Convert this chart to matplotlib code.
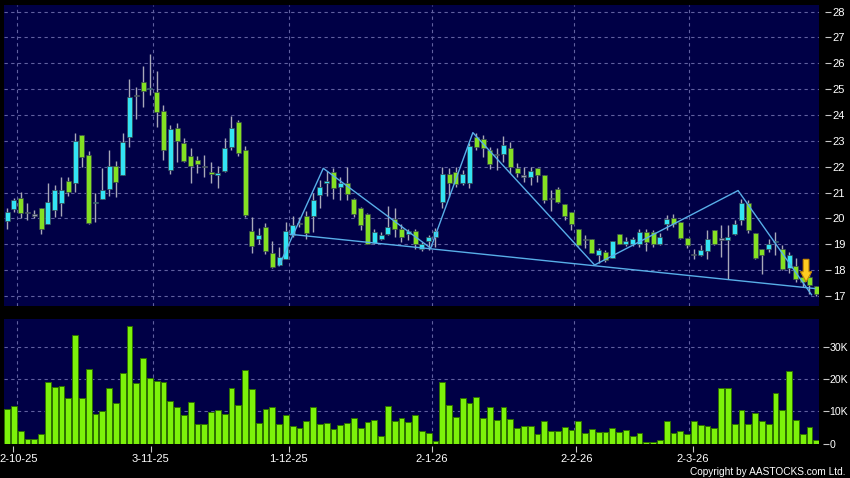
import matplotlib
matplotlib.use("Agg")
import matplotlib.pyplot as plt
from matplotlib.patches import Polygon
from matplotlib.transforms import ScaledTranslation
import numpy as np

plt.rcParams['font.family'] = ['Liberation Sans', 'DejaVu Sans']

# ---------------- data (daily bars, 30-9-25 .. 26-3-26) ----------------
opens = [19.92, 20.36, 20.78, 20.23, 20.14, 20.39, 19.78, 20.32, 20.59, 21.44,
         21.36, 23.22, 22.44, 20.59, 20.77, 21.13, 22.04, 21.67, 23.14, 24.76,
         25.27, 25.00, 24.90, 24.14, 21.88, 23.51, 22.91, 22.40, 22.26, 22.01,
         21.79, 21.67, 21.83, 22.75, 23.73, 22.66, 19.53, 19.21, 19.68, 18.68,
         18.20, 18.43, 19.37, 19.81, 20.10, 20.10, 20.91, 21.36, 21.78, 21.23,
         21.39, 20.77, 20.42, 20.18, 19.05, 19.22, 19.41, 19.97, 19.61, 19.38,
         19.52, 18.82, 19.12, 19.28, 20.64, 21.71, 21.78, 21.38, 21.39, 23.16,
         23.09, 22.66, 22.48, 22.48, 22.72, 21.97, 21.64, 21.59, 21.97, 21.68,
         20.78, 21.13, 20.55, 20.24, 19.61, 19.19, 19.19, 18.58, 18.71, 18.49,
         19.38, 19.01, 19.01, 19.01, 19.49, 19.46, 19.01, 19.77, 20.02, 19.87,
         19.25, 18.61, 18.57, 18.75, 19.57, 19.20, 19.17, 19.38, 19.93, 20.61,
         19.44, 18.80, 18.80, 19.08, 18.83, 18.07, 18.17, 17.72, 17.75, 17.40]
highs = [20.42, 20.80, 21.01, 20.59, 20.33, 20.40, 21.36, 21.30, 21.62, 21.62,
         23.29, 23.22, 22.59, 20.97, 21.97, 22.65, 22.24, 23.29, 25.38, 25.07,
         25.90, 26.36, 25.70, 24.39, 23.63, 23.69, 23.11, 22.72, 22.40, 22.46,
         22.20, 22.01, 23.11, 23.97, 23.82, 22.81, 20.05, 19.62, 19.84, 19.12,
         18.88, 19.88, 20.10, 20.07, 20.27, 21.00, 21.49, 21.82, 21.94, 21.59,
         21.98, 20.80, 20.45, 20.20, 19.61, 19.48, 20.48, 20.42, 19.80, 19.61,
         19.61, 19.09, 19.35, 19.65, 22.00, 21.94, 22.00, 21.87, 22.91, 23.30,
         23.23, 22.78, 22.72, 23.19, 22.97, 22.13, 22.00, 22.00, 21.97, 21.68,
         21.10, 21.23, 20.55, 20.24, 19.61, 19.36, 19.19, 18.84, 18.78, 19.14,
         19.38, 19.29, 19.29, 19.61, 19.61, 19.55, 19.42, 20.13, 20.19, 19.87,
         19.25, 18.81, 18.97, 19.55, 19.57, 19.75, 19.75, 19.93, 20.77, 20.70,
         19.44, 18.80, 19.22, 19.49, 18.97, 18.72, 18.49, 18.00, 17.87, 17.40]
lows = [19.60, 20.25, 20.00, 19.94, 20.00, 19.39, 19.78, 20.07, 20.10, 20.85,
        21.04, 22.00, 19.80, 19.88, 20.74, 20.85, 20.82, 21.67, 22.78, 23.86,
        24.32, 24.78, 23.55, 22.26, 21.73, 22.20, 22.17, 21.36, 21.75, 21.62,
        21.39, 21.17, 21.80, 22.66, 22.40, 20.07, 18.68, 19.01, 18.63, 18.10,
        18.20, 18.43, 19.30, 19.68, 19.19, 19.49, 20.40, 20.85, 20.77, 20.71,
        20.73, 20.06, 19.54, 19.00, 19.00, 19.16, 19.35, 19.28, 19.09, 19.18,
        18.83, 18.73, 18.77, 18.90, 20.42, 20.84, 21.23, 21.29, 21.16, 22.65,
        22.39, 21.90, 21.88, 22.20, 21.75, 21.59, 21.42, 21.29, 21.42, 20.58,
        20.30, 20.58, 19.94, 19.55, 18.93, 18.84, 18.65, 18.26, 18.32, 18.49,
        19.00, 18.93, 18.93, 18.88, 18.75, 18.90, 18.97, 19.55, 19.68, 19.22,
        18.84, 18.45, 18.54, 18.45, 18.97, 18.52, 17.65, 19.35, 19.74, 19.42,
        18.45, 17.87, 18.71, 18.59, 18.00, 17.88, 17.55, 17.35, 17.07, 17.00]
closes = [20.24, 20.70, 20.20, 20.23, 20.14, 19.58, 20.63, 21.09, 21.09, 21.04,
          23.00, 22.37, 19.84, 20.65, 21.09, 22.04, 21.40, 22.95, 24.69, 24.76,
          24.94, 25.06, 24.10, 22.65, 23.46, 22.99, 22.24, 22.04, 22.10, 22.01,
          21.74, 21.75, 22.71, 23.50, 22.55, 20.14, 18.94, 19.36, 18.74, 18.11,
          18.50, 19.50, 19.76, 19.81, 19.43, 20.72, 21.21, 21.45, 21.16, 21.39,
          20.94, 20.17, 19.74, 19.02, 19.48, 19.36, 19.67, 19.61, 19.28, 19.52,
          19.00, 19.02, 19.28, 19.52, 21.71, 21.36, 21.34, 21.73, 22.82, 22.78,
          22.72, 22.10, 22.48, 22.84, 22.00, 21.77, 21.64, 21.84, 21.68, 20.71,
          20.78, 20.62, 20.11, 19.77, 18.97, 19.19, 18.67, 18.78, 18.41, 19.14,
          19.01, 19.14, 19.19, 19.49, 19.10, 19.01, 19.29, 19.97, 19.77, 19.25,
          18.99, 18.61, 18.77, 19.19, 19.01, 19.20, 19.28, 19.77, 20.61, 19.57,
          18.49, 18.58, 19.03, 19.13, 18.03, 18.60, 17.64, 17.55, 17.42, 17.08]
volumes = [10650, 11700, 3900, 1450, 1350, 3100, 19100, 17600, 17800, 14100,
           33600, 14000, 23200, 9300, 10000, 17100, 12600, 21900, 36600, 18800,
           26400, 20200, 19400, 19200, 13100, 11400, 8900, 12800, 6100, 6200,
           9900, 10300, 9300, 17200, 11900, 22800, 16800, 6500, 10700, 11200,
           5900, 8800, 5400, 4900, 6900, 11300, 6200, 6500, 4550, 5700,
           6500, 7800, 4800, 6700, 7200, 2300, 11700, 7000, 8000, 6600,
           9000, 3900, 3200, 700, 19100, 11800, 8300, 14200, 12500, 14500,
           8000, 11300, 7200, 11300, 7700, 4700, 5400, 5400, 3000, 6900,
           3900, 3900, 5200, 4200, 7000, 3300, 4400, 3700, 3700, 4800,
           3500, 4200, 2300, 3400, 600, 600, 1100, 6900, 3400, 3800,
           3100, 6900, 5600, 5500, 4900, 17200, 17200, 6000, 10300, 6000,
           9600, 6900, 6000, 15600, 10500, 22400, 7300, 3100, 5000, 1200]

date_tick_pos = [0.9, 21.1, 41.4, 62.5, 83.7, 100.8]
date_labels = ["2-10-25", "3-11-25", "1-12-25", "2-1-26", "2-2-26", "2-3-26"]
month_grid = [1.5, 21.5, 41.5, 62.5, 83.4, 100.3]
price_ticks = [17, 18, 19, 20, 21, 22, 23, 24, 25, 26, 27, 28]
vol_ticks = [0, 10000, 20000, 30000]
vol_labels = ["0", "10K", "20K", "30K"]

neckline_x = [41.6, 118.8]
neckline_y = [19.39, 17.29]
zigzag_x = [40.0, 46.5, 62.3, 68.5, 86.4, 107.5, 118.3]
zigzag_y = [18.17, 21.94, 18.85, 23.32, 18.20, 21.08, 17.05]
signal_x = 117.5
signal_top = 18.42
signal_tip = 17.55

# ---------------- styling ----------------
BG = '#000046'
UP = '#33e4f4'
DOWN = '#84e022'
DOJI = '#9a9ab8'
WICK = '#a8a8b8'
GRID = '#6060a0'
LINE = '#58aee8'

fig = plt.figure(figsize=(8.5, 4.78), dpi=100, facecolor='black')
W, H = 850.0, 478.0
ax = fig.add_axes([4 / W, 1 - 306 / H, 815 / W, 301 / H])
ax2 = fig.add_axes([4 / W, 1 - 443.5 / H, 815 / W, 124.5 / H])

x = np.arange(len(opens))
o = np.array(opens); c = np.array(closes); h = np.array(highs); l = np.array(lows)

for a in (ax, ax2):
    a.set_facecolor(BG)
    for s in a.spines.values():
        s.set_visible(False)
    a.set_xlim(-0.45, 119.4)
    for g in month_grid:
        a.axvline(g, color=GRID, lw=0.8, ls=(0, (3, 3)), zorder=0)

# price grid
for p in price_ticks:
    ax.axhline(p, color=GRID, lw=0.8, ls=(0, (3, 3)), zorder=0)
ax.set_ylim(16.615, 28.255)

# candles
ax.vlines(x, l, h, color=WICK, lw=1.0, zorder=2)
body_bottom = np.minimum(o, c)
body_h = np.abs(c - o)
colors = [UP if cc > oo + 0.005 else (DOWN if cc < oo - 0.005 else DOJI) for oo, cc in zip(o, c)]
body_h_draw = np.where(body_h < 0.06, 0.06, body_h)
body_bottom_draw = np.where(body_h < 0.06, (o + c) / 2 - 0.03, body_bottom)
ax.bar(x, body_h_draw, bottom=body_bottom_draw, width=0.74, color=colors,
       edgecolor='#3a4a50', lw=0.5, zorder=3)

# trend lines
ax.plot(neckline_x, neckline_y, color=LINE, lw=1.0, zorder=4)
ax.plot(zigzag_x, zigzag_y, color=LINE, lw=1.0, zorder=4)

# signal arrow
head_len = 0.39
shaft_hw = 0.42
head_hw = 0.82
arrow = Polygon([[signal_x - shaft_hw, signal_top], [signal_x + shaft_hw, signal_top],
                 [signal_x + shaft_hw, signal_tip + head_len], [signal_x + head_hw, signal_tip + head_len],
                 [signal_x, signal_tip], [signal_x - head_hw, signal_tip + head_len],
                 [signal_x - shaft_hw, signal_tip + head_len]],
                closed=True, facecolor='#ffcc22', edgecolor='#c88a00', lw=0.8, zorder=6)
ax.add_patch(arrow)

# price axis ticks
ax.yaxis.tick_right()
ax.spines['right'].set_position(('outward', 4))
ax.set_yticks(price_ticks)
ax.set_yticklabels([str(p) for p in price_ticks])
ax.tick_params(axis='y', length=4, width=0.8, color='#c8c8c8', labelcolor='white',
               labelsize=8, pad=2)
ax.set_xticks([])

# volume
for v in vol_ticks[1:]:
    ax2.axhline(v, color=GRID, lw=0.8, ls=(0, (3, 3)), zorder=0)
ax2.bar(x, volumes, width=0.84, color='#7cf20a', edgecolor='#2e7000', lw=0.7, zorder=3)
ax2.set_ylim(0, 38660)
ax2.yaxis.tick_right()
ax2.spines['right'].set_position(('outward', 3))
ax2.set_yticks(vol_ticks)
ax2.set_yticklabels(vol_labels)
ax2.tick_params(axis='y', length=4, width=0.8, color='#c8c8c8', labelcolor='white',
                labelsize=7.6, pad=0.5)
ax2.spines['bottom'].set_position(('outward', 2))
ax2.set_xticks(date_tick_pos)
ax2.set_xticklabels(date_labels)
ax2.tick_params(axis='x', length=4, width=0.8, color='#c8c8c8', labelcolor='white',
                labelsize=8, pad=1.5)
# keep the first date label inside the picture
first = ax2.get_xticklabels()[0]
first.set_transform(first.get_transform() + ScaledTranslation(6 / 100, 0, fig.dpi_scale_trans))

fig.text(845 / W, 1 - 472 / H, "Copyright by AASTOCKS.com Ltd.", color='white',
         fontsize=7.3, ha='right', va='center')

fig.savefig('out.png', dpi=100, facecolor='black')
